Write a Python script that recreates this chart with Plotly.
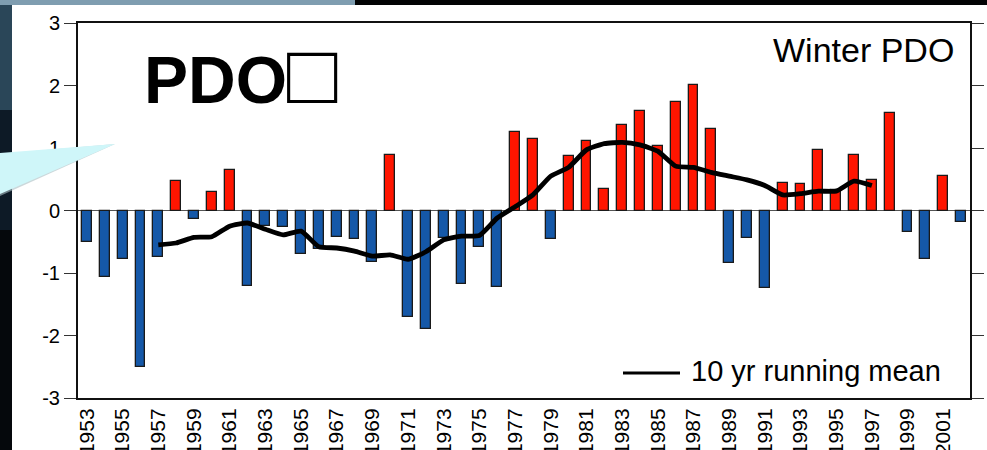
import plotly.graph_objects as go

# Winter PDO index, 1953-2002
years = list(range(1953, 2003))
pdo = [-0.51, -1.06, -0.77, -2.51, -0.74, 0.47, -0.14, 0.30, 0.65, -1.20,
       -0.25, -0.27, -0.70, -0.62, -0.43, -0.46, -0.82, 0.89, -1.70, -1.89,
       -0.44, -1.17, -0.59, -1.23, 1.26, 1.15, -0.45, 0.87, 1.11, 0.34,
       1.37, 1.60, 1.03, 1.74, 2.01, 1.30, -0.84, -0.44, -1.24, 0.44,
       0.43, 0.97, 0.33, 0.89, 0.49, 1.56, -0.35, -0.77, 0.55, -0.18]

# 10-year running mean (centred), 1957-1997
mean_years = list(range(1957, 1998))
running_mean = [-0.55, -0.52, -0.43, -0.42, -0.25, -0.20, -0.30, -0.39, -0.33, -0.58,
                -0.60, -0.65, -0.73, -0.71, -0.78, -0.66, -0.47, -0.41, -0.40, -0.12,
                0.06, 0.25, 0.55, 0.69, 0.97, 1.07, 1.09, 1.05, 0.95, 0.71,
                0.69, 0.61, 0.55, 0.49, 0.40, 0.25, 0.27, 0.31, 0.31, 0.47, 0.40]

x_tick_years = list(range(1953, 2002, 2))
y_tick_vals = [-3, -2, -1, 0, 1, 2, 3]
y_tick_text = ["-3", "-2", "-1", "0", "1", "2", "3"]

RED = "#ff1500"
BLUE = "#1558a8"
FONT = "Liberation Sans, Arial, Helvetica, sans-serif"

W, H = 987, 450
L, R, T, B = 78, 17, 23, 52
PW, PH = W - L - R, H - T - B


def px(x):
    return (x - L) / PW


def py(y):
    return (H - B - y) / PH


fig = go.Figure()

fig.add_trace(go.Bar(
    x=years, y=pdo, width=0.55,
    marker=dict(color=[RED if v >= 0 else BLUE for v in pdo],
                line=dict(color="#1a1a1a", width=1.3)),
    showlegend=False, hoverinfo="x+y",
))

fig.add_trace(go.Scatter(
    x=mean_years, y=running_mean, mode="lines",
    line=dict(color="black", width=4.8, shape="spline", smoothing=0.5),
    showlegend=False,
))

shapes = [
    # dark frame around the white panel
    dict(type="rect", xref="paper", yref="paper", layer="below",
         x0=px(0), x1=px(12), y0=py(450), y1=py(0),
         fillcolor="#05080c", line_width=0),
    dict(type="rect", xref="paper", yref="paper", layer="below",
         x0=px(0), x1=px(12), y0=py(110), y1=py(0),
         fillcolor="#2a4658", line_width=0),
    dict(type="rect", xref="paper", yref="paper", layer="below",
         x0=px(0), x1=px(12), y0=py(230), y1=py(110),
         fillcolor="#0d1a26", line_width=0),
    dict(type="rect", xref="paper", yref="paper", layer="below",
         x0=px(0), x1=px(987), y0=py(5), y1=py(0),
         fillcolor="#020304", line_width=0),
    dict(type="rect", xref="paper", yref="paper", layer="below",
         x0=px(0), x1=px(355), y0=py(5), y1=py(0),
         fillcolor="#7f9db0", line_width=0),
    # legend key for the running mean
    dict(type="line", xref="paper", yref="paper", layer="above",
         x0=px(623), x1=px(680), y0=py(373), y1=py(373),
         line=dict(color="black", width=3)),
    # callout pointer
    dict(type="path", xref="paper", yref="paper", layer="above",
         path=(f"M {px(0)},{py(154)} L {px(115)},{py(144)} "
               f"L {px(0)},{py(196)} Z"),
         fillcolor="rgba(170,190,195,0.6)", line_width=0),
    dict(type="path", xref="paper", yref="paper", layer="above",
         path=(f"M {px(0)},{py(153)} L {px(115)},{py(144)} "
               f"L {px(0)},{py(194)} Z"),
         fillcolor="#cff6f9", line_width=0),
]

annotations = [
    dict(text="Winter PDO", xref="paper", yref="paper",
         x=px(956), y=py(50), xanchor="right", yanchor="middle",
         showarrow=False, font=dict(family=FONT, size=34, color="black")),
    dict(text="10 yr running mean", xref="paper", yref="paper",
         x=px(689), y=py(371), xanchor="left", yanchor="middle",
         showarrow=False, font=dict(family=FONT, size=29, color="black")),
    dict(text="<b>PDO<span style='font-size:84px'>□</span></b>",
         xref="paper", yref="paper",
         x=px(142), y=py(102), xanchor="left", yanchor="bottom",
         yshift=-21,
         showarrow=False, font=dict(family=FONT, size=66, color="black")),
]

fig.update_layout(
    width=W, height=H,
    margin=dict(l=L, r=R, t=T, b=B, pad=0, autoexpand=False),
    paper_bgcolor="white", plot_bgcolor="white",
    bargap=0,
    shapes=shapes, annotations=annotations,
    font=dict(family=FONT, color="black"),
    xaxis=dict(
        range=[1952.5, 2002.5], automargin=False,
        tickvals=x_tick_years, ticktext=[str(y) for y in x_tick_years],
        tickangle=-90, tickfont=dict(size=21),
        ticks="", showgrid=False, zeroline=False,
        showline=True, linecolor="#111", linewidth=2, mirror=True,
    ),
    yaxis=dict(
        range=[-3, 3], automargin=False,
        tickvals=y_tick_vals, ticktext=y_tick_text,
        tickfont=dict(size=20),
        ticks="outside", ticklen=12, tickwidth=1.2, tickcolor="#333",
        showgrid=False,
        zeroline=True, zerolinecolor="#555", zerolinewidth=1,
        showline=True, linecolor="#111", linewidth=2, mirror="ticks",
    ),
)

fig.write_html("out.html")
